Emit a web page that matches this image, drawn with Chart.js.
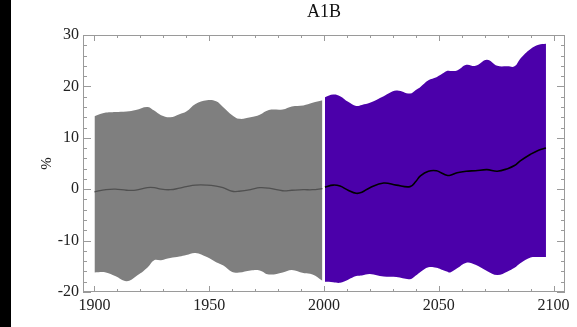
<!DOCTYPE html>
<html lang="en">
<head>
	<meta charset="utf-8">
	<title>A1B</title>
	<script src="https://cdn.jsdelivr.net/npm/chart.js"></script>
	<style>
		body { margin: 0; background: #fff; }
		#wrap { position: relative; width: 577px; height: 327px; }
		#strip { position: absolute; left: 0; top: 0; width: 11px; height: 327px; background: #000; }
		#title {
			position: absolute; left: 83px; width: 482px; top: 1px;
			text-align: center; font: 18px 'Liberation Serif', 'Times New Roman', serif; color: #111;
		}
	</style>
</head>
<body>
	<div id="wrap">
		<canvas id="myChart" width="577" height="327"></canvas>
		<div id="strip"></div>
		<div id="title">A1B</div>
	</div>

<script>
	// 20th century ensemble (grey band)
	const histYears = [1900, 1905, 1909, 1914, 1918, 1923, 1926, 1929, 1933, 1937, 1940, 1944, 1949, 1953, 1956, 1960, 1963, 1968, 1972, 1976, 1982, 1986, 1991, 1995, 1999.3];
	const histUpper = [14.2, 14.9, 15.0, 15.1, 15.4, 16.0, 15.3, 14.4, 14.0, 14.6, 15.1, 16.6, 17.3, 17.1, 16.0, 14.4, 13.7, 14.0, 14.5, 15.4, 15.5, 16.1, 16.3, 16.8, 17.3];
	const histLower = [-16.2, -16.2, -16.9, -17.9, -17.0, -15.3, -13.8, -13.8, -13.4, -13.1, -12.8, -12.4, -13.2, -14.2, -14.8, -16.1, -16.2, -15.8, -15.8, -16.6, -16.2, -15.7, -16.3, -16.6, -17.8];
	const histMean  = [-0.5, -0.1, 0.0, -0.2, -0.2, 0.3, 0.3, 0.0, -0.1, 0.2, 0.5, 0.8, 0.8, 0.6, 0.3, -0.4, -0.4, -0.1, 0.3, 0.2, -0.3, -0.2, -0.1, -0.1, 0.1];

	// A1B scenario (purple band)
	const futYears = [2000.4, 2004, 2007, 2010.5, 2014, 2016.5, 2020, 2026, 2031.5, 2037.5, 2040, 2042, 2045.5, 2049, 2051, 2053.5, 2055, 2058, 2062, 2066, 2071, 2075.5, 2080, 2083, 2085.5, 2090, 2093.5, 2096.7];
	const futUpper = [17.9, 18.4, 18.1, 17.0, 16.2, 16.4, 16.8, 18.1, 19.2, 18.6, 19.3, 19.9, 21.2, 21.8, 22.3, 23.0, 23.0, 23.1, 24.2, 24.0, 25.2, 24.0, 23.9, 23.9, 25.4, 27.3, 28.1, 28.3];
	const futLower = [-18.0, -18.1, -18.2, -17.6, -16.9, -16.8, -16.5, -17.0, -17.1, -17.5, -16.8, -16.1, -15.2, -15.3, -15.6, -16.0, -16.2, -15.4, -14.3, -14.7, -15.9, -16.7, -16.0, -15.3, -14.4, -13.3, -13.2, -13.2];
	const futMean  = [0.4, 0.8, 0.6, -0.2, -0.8, -0.6, 0.3, 1.2, 0.8, 0.5, 1.5, 2.6, 3.5, 3.6, 3.2, 2.7, 2.7, 3.2, 3.5, 3.6, 3.8, 3.5, 4.0, 4.6, 5.5, 6.8, 7.6, 8.0];

	// axis ticks
	const xMajor = [1900, 1950, 2000, 2050, 2100];
	const xMinorStep = 10;
	const yMajor = [-20, -10, 0, 10, 20, 30];
	const yMinorStep = 2;

	const GREY = '#7f7f7f';
	const PURPLE = '#4b00aa';
	const AXIS = '#9a9a9a';

	function pts(xs, ys) {
		return xs.map((x, i) => ({ x: x, y: ys[i] }));
	}

	// frame with inward ticks on all four sides, IDL style
	const frameTicks = {
		id: 'frameTicks',
		afterDraw(chart) {
			const ctx = chart.ctx;
			const a = chart.chartArea;
			const xs = chart.scales.x, ys = chart.scales.y;
			ctx.save();
			ctx.strokeStyle = AXIS;
			ctx.lineWidth = 1;
			ctx.strokeRect(a.left + 0.5, a.top + 0.5, a.right - a.left - 1, a.bottom - a.top - 1);
			ctx.beginPath();
			for (let v = xMajor[0]; v <= xMajor[xMajor.length - 1]; v += xMinorStep) {
				const len = xMajor.includes(v) ? 6 : 3;
				const px = Math.round(xs.getPixelForValue(v)) + 0.5;
				ctx.moveTo(px, a.bottom); ctx.lineTo(px, a.bottom - len);
				ctx.moveTo(px, a.top); ctx.lineTo(px, a.top + len);
			}
			for (let v = yMajor[0]; v <= yMajor[yMajor.length - 1]; v += yMinorStep) {
				const len = yMajor.includes(v) ? 8 : 4;
				const py = Math.round(ys.getPixelForValue(v)) + 0.5;
				ctx.moveTo(a.left, py); ctx.lineTo(a.left + len, py);
				ctx.moveTo(a.right, py); ctx.lineTo(a.right - len, py);
			}
			ctx.stroke();
			ctx.restore();
		}
	};

	const serif = 'Liberation Serif, Times New Roman, serif';

	const config = {
		type: 'line',
		data: {
			datasets: [
				{ data: pts(futYears, futMean), borderColor: '#000', borderWidth: 1.6, fill: false },
				{ data: pts(histYears, histMean), borderColor: '#505050', borderWidth: 1.3, fill: false },
				{ data: pts(futYears, futUpper), borderWidth: 0, borderColor: PURPLE, backgroundColor: PURPLE, fill: '+1' },
				{ data: pts(futYears, futLower), borderWidth: 0, borderColor: PURPLE, fill: false },
				{ data: pts(histYears, histUpper), borderWidth: 0, borderColor: GREY, backgroundColor: GREY, fill: '+1' },
				{ data: pts(histYears, histLower), borderWidth: 0, borderColor: GREY, fill: false }
			]
		},
		options: {
			responsive: false,
			animation: false,
			elements: { point: { radius: 0 }, line: { tension: 0.4 } },
			layout: { padding: { left: 0, right: 12, top: 35, bottom: 0 } },
			plugins: {
				legend: { display: false },
				tooltip: { enabled: false },
				title: { display: false }
			},
			scales: {
				x: {
					type: 'linear',
					min: 1895,
					max: 2105,
					grid: { display: false, drawTicks: false },
					border: { display: false },
					ticks: { color: '#222', font: { family: serif, size: 16 }, padding: 4, maxRotation: 0, callback: v => String(v) },
					afterBuildTicks: s => { s.ticks = xMajor.map(v => ({ value: v })); },
					afterFit: s => { s.height = 35; }
				},
				y: {
					min: -20,
					max: 30,
					grid: { display: false, drawTicks: false },
					border: { display: false },
					ticks: { color: '#222', font: { family: serif, size: 16 }, padding: 4 },
					title: { display: true, text: '%', color: '#222', font: { family: serif, size: 15 }, padding: { top: 38, bottom: 0 } },
					afterBuildTicks: s => { s.ticks = yMajor.map(v => ({ value: v })); },
					afterFit: s => { s.width = 83; }
				}
			}
		},
		plugins: [frameTicks]
	};

	const myChart = new Chart(document.getElementById('myChart'), config);
</script>
</body>
</html>
